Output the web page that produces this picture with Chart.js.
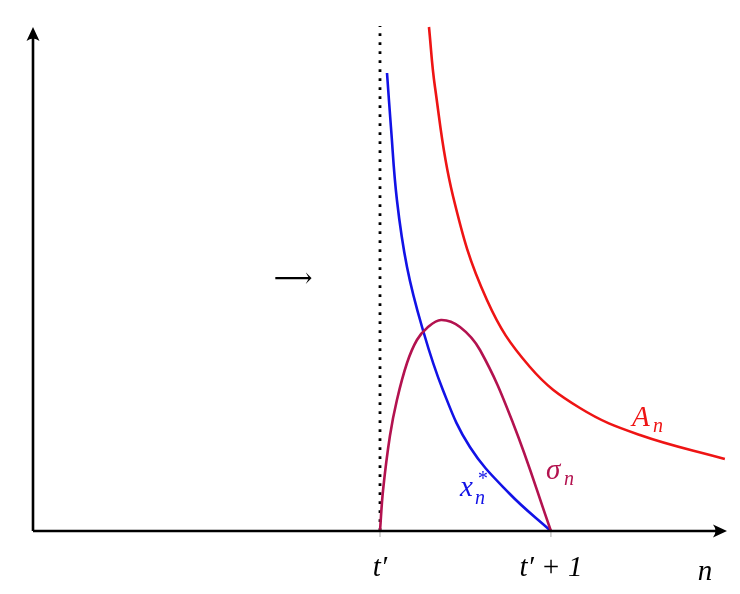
<!DOCTYPE html>
<html>
<head>
<meta charset="utf-8">
<script src="https://cdn.jsdelivr.net/npm/chart.js@4"></script>
<style>
  body { margin: 0; background: #fff; }
  canvas { display: block; }
</style>
</head>
<body>
<canvas id="chart" width="740" height="594"></canvas>
<script>
// Valores (x: t' = 0, t'+1 = 1)
const xStar = [[0.041, 4.58], [0.064, 4.04], [0.099, 3.31], [0.158, 2.64], [0.246, 2.04], [0.368, 1.41],
  [0.526, 0.84], [0.760, 0.37], [1.0, 0]];
const aN = [[0.2865, 5.04], [0.3216, 4.44], [0.4269, 3.35], [0.6257, 2.31], [0.8772, 1.64],
  [1.1696, 1.23], [1.5205, 0.96], [2.0175, 0.72]];
const sigmaN = [[0, 0], [0.018, 0.41], [0.058, 0.95], [0.099, 1.31], [0.158, 1.68], [0.216, 1.91], [0.275, 2.03],
  [0.357, 2.11], [0.468, 2.04], [0.585, 1.81], [0.778, 1.08], [1.0, 0]];
const tickValues = [0, 1];
const tickLabels = ["t′", "t′ + 1"];
const xRange = [-2.03, 2.03];
const yRange = [0, 5.04];

const BLUE = "#1212e6";
const RED = "#ee1414";
const PURPLE = "#b3124f";

function toPts(arr) {
  return arr.map(p => ({ x: p[0], y: p[1] }));
}

function arrowHead(ctx, x, y, angle) {
  ctx.save();
  ctx.translate(x, y);
  ctx.rotate(angle);
  ctx.beginPath();
  ctx.moveTo(0, 0);
  ctx.lineTo(-14, -6.5);
  ctx.quadraticCurveTo(-9, 0, -14, 6.5);
  ctx.closePath();
  ctx.fill();
  ctx.restore();
}

// Ejes, línea punteada, marcas y etiquetas
const decoracion = {
  id: "decoracion",
  beforeDatasetsDraw(chart) {
    const ctx = chart.ctx;
    const xs = chart.scales.x, ys = chart.scales.y;
    const a = chart.chartArea;
    const x0 = xs.getPixelForValue(0);
    ctx.save();
    ctx.strokeStyle = "#000";
    ctx.lineWidth = 2.8;
    ctx.setLineDash([2.8, 6.2]);
    ctx.beginPath();
    ctx.moveTo(x0, ys.getPixelForValue(0));
    ctx.lineTo(x0, a.top - 1);
    ctx.stroke();
    ctx.setLineDash([]);
    ctx.strokeStyle = "#aaa";
    ctx.lineWidth = 1;
    tickValues.forEach(v => {
      const px = xs.getPixelForValue(v);
      ctx.beginPath();
      ctx.moveTo(px, ys.getPixelForValue(0));
      ctx.lineTo(px, ys.getPixelForValue(0) + 6);
      ctx.stroke();
    });
    ctx.restore();
  },
  afterDatasetsDraw(chart) {
    const ctx = chart.ctx;
    const xs = chart.scales.x, ys = chart.scales.y;
    const a = chart.chartArea;
    const yb = ys.getPixelForValue(0);
    ctx.save();
    ctx.strokeStyle = "#000";
    ctx.fillStyle = "#000";
    ctx.lineWidth = 2.6;
    ctx.beginPath();
    ctx.moveTo(a.left, yb);
    ctx.lineTo(a.right - 4, yb);
    ctx.moveTo(a.left, yb);
    ctx.lineTo(a.left, a.top + 4);
    ctx.stroke();
    arrowHead(ctx, a.right, yb, 0);
    arrowHead(ctx, a.left, a.top, -Math.PI / 2);

    ctx.font = "italic 29px 'Liberation Serif'";
    ctx.textAlign = "center";
    ctx.textBaseline = "alphabetic";
    tickValues.forEach((v, i) => {
      ctx.fillText(tickLabels[i], xs.getPixelForValue(v), yb + 45);
    });
    ctx.fillText("n", 705, 580);

    ctx.font = "27px 'DejaVu Serif'";
    ctx.fillText("⟶", 293, 287);

    ctx.font = "italic 29px 'Liberation Serif'";
    ctx.textAlign = "left";
    ctx.fillStyle = RED;
    ctx.fillText("A", 632, 426);
    ctx.font = "italic 20px 'Liberation Serif'";
    ctx.fillText("n", 653, 432);

    ctx.fillStyle = PURPLE;
    ctx.font = "italic 29px 'Liberation Serif'";
    ctx.fillText("σ", 546, 479);
    ctx.font = "italic 20px 'Liberation Serif'";
    ctx.fillText("n", 564, 485);

    ctx.fillStyle = BLUE;
    ctx.font = "italic 29px 'Liberation Serif'";
    ctx.fillText("x", 460, 496);
    ctx.font = "italic 20px 'Liberation Serif'";
    ctx.fillText("n", 475, 504);
    ctx.fillText("*", 477, 485);
    ctx.restore();
  }
};

new Chart(document.getElementById("chart"), {
  type: "scatter",
  data: {
    datasets: [
      { label: "A_n", data: toPts(aN), borderColor: RED },
      { label: "σ_n", data: toPts(sigmaN), borderColor: PURPLE },
      { label: "x_n*", data: toPts(xStar), borderColor: BLUE }
    ].map(d => Object.assign(d, {
      showLine: true,
      borderWidth: 2.6,
      pointRadius: 0,
      tension: 0.4,
      capBezierPoints: false,
      fill: false
    }))
  },
  options: {
    responsive: false,
    animation: false,
    devicePixelRatio: 1,
    layout: { padding: { left: 33, right: 13, top: 27, bottom: 63 } },
    plugins: { legend: { display: false }, tooltip: { enabled: false } },
    scales: {
      x: { type: "linear", min: xRange[0], max: xRange[1], display: false },
      y: { type: "linear", min: yRange[0], max: yRange[1], display: false }
    },
    clip: false
  },
  plugins: [decoracion]
});
</script>
</body>
</html>
